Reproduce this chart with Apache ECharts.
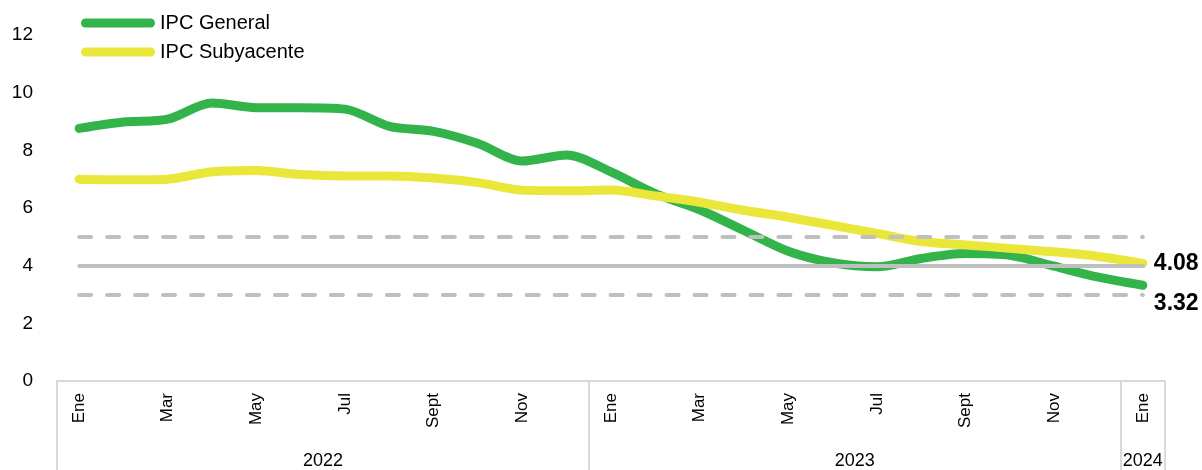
<!DOCTYPE html>
<html>
<head>
<meta charset="utf-8">
<script src="https://cdn.jsdelivr.net/npm/echarts@6/dist/echarts.min.js"></script>
<style>
  html, body { margin: 0; padding: 0; background: #fff; }
  #chart { width: 1202px; height: 470px; }
</style>
</head>
<body>
<div id="chart"></div>
<script>
// meses (ene 2022 - ene 2024)
const months = ['Ene', 'Feb', 'Mar', 'Abr', 'May', 'Jun', 'Jul', 'Ago', 'Sept', 'Oct', 'Nov', 'Dic',
  'Ene', 'Feb', 'Mar', 'Abr', 'May', 'Jun', 'Jul', 'Ago', 'Sept', 'Oct', 'Nov', 'Dic', 'Ene']
const years = ['2022', '2023', '2024']
const monthsPerYear = [12, 12, 1]

// inflación interanual (%)
const ipcGeneral = [8.76, 8.98, 9.08, 9.64, 9.48, 9.48, 9.43, 8.83, 8.66, 8.24, 7.63, 7.84,
  7.25, 6.5, 5.94, 5.22, 4.5, 4.1, 3.96, 4.25, 4.42, 4.36, 3.98, 3.6, 3.32]
const ipcSubyacente = [7.0, 6.98, 7.0, 7.26, 7.3, 7.16, 7.11, 7.11, 7.04, 6.88, 6.62, 6.6,
  6.62, 6.42, 6.2, 5.92, 5.68, 5.4, 5.12, 4.84, 4.72, 4.6, 4.48, 4.32, 4.08]

// meta y rango de tolerancia
const metaCentral = 4
const rangoInferior = 3
const rangoSuperior = 5

const yTicks = [0, 2, 4, 6, 8, 10, 12]

const font = 'Liberation Sans, Arial, sans-serif'
const grisRef = '#BFBFBF'
const grisEje = '#D9D9D9'
const last = months.length - 1

// posiciones de los años en el eje (centro de cada bloque) y separadores
const yearCenters = []
const yearEdges = [0]
let acc = 0
monthsPerYear.forEach(n => {
  yearCenters.push(acc + n / 2)
  acc += n
  yearEdges.push(acc)
})

const chart = echarts.init(document.getElementById('chart'))

const option = {
  animation: false,
  textStyle: { fontFamily: font },
  grid: {
    left: 57,
    right: 37,
    top: 35,
    bottom: 89,
    containLabel: false,
    outerBoundsMode: 'none'
  },
  legend: {
    orient: 'vertical',
    left: 81,
    top: 13,
    padding: 0,
    itemWidth: 74,
    itemHeight: 9,
    itemGap: 9,
    icon: 'path://M4.5,0 H69.5 A4.5,4.5 0 0 1 69.5,9 H4.5 A4.5,4.5 0 0 1 4.5,0 Z',
    textStyle: { fontSize: 20, color: '#000', fontFamily: font, lineHeight: 20 },
    data: ['IPC General', 'IPC Subyacente']
  },
  xAxis: [
    {
      type: 'category',
      data: months,
      boundaryGap: true,
      axisLine: { show: true, lineStyle: { color: grisEje, width: 2 } },
      axisTick: { show: false },
      axisLabel: {
        interval: 1,
        rotate: 90,
        margin: 12,
        fontSize: 17,
        color: '#000',
        fontFamily: font
      }
    },
    {
      type: 'value',
      position: 'bottom',
      min: 0,
      max: months.length,
      splitLine: { show: false },
      axisLine: { show: false },
      axisTick: {
        show: true,
        length: 90,
        customValues: yearEdges,
        lineStyle: { color: grisEje, width: 2 }
      },
      axisLabel: {
        customValues: yearCenters,
        margin: 71,
        fontSize: 18,
        color: '#000',
        fontFamily: font,
        formatter: v => years[yearCenters.indexOf(v)] || ''
      }
    }
  ],
  yAxis: {
    type: 'value',
    min: yTicks[0],
    max: yTicks[yTicks.length - 1],
    interval: 2,
    axisLine: { show: false },
    axisTick: { show: false },
    splitLine: { show: false },
    axisLabel: { fontSize: 19, color: '#000', margin: 24, fontFamily: font }
  },
  series: [
    {
      name: 'IPC General',
      type: 'line',
      data: ipcGeneral,
      smooth: 0.3,
      showSymbol: false,
      color: '#33B44A',
      lineStyle: { width: 9, cap: 'round', join: 'round' },
      endLabel: {
        show: true,
        formatter: p => p.value.toFixed(2),
        fontSize: 23,
        fontWeight: 'bold',
        color: '#000',
        distance: 11,
        offset: [0, 18]
      },
      z: 2
    },
    {
      name: 'IPC Subyacente',
      type: 'line',
      data: ipcSubyacente,
      smooth: 0.3,
      showSymbol: false,
      color: '#EAE73A',
      lineStyle: { width: 9, cap: 'round', join: 'round' },
      endLabel: {
        show: true,
        formatter: p => p.value.toFixed(2),
        fontSize: 23,
        fontWeight: 'bold',
        color: '#000',
        distance: 11
      },
      z: 3
    },
    {
      name: 'rango',
      type: 'line',
      data: [],
      z: 5,
      markLine: {
        silent: true,
        symbol: 'none',
        label: { show: false },
        z: 5,
        lineStyle: { color: grisRef, width: 4, type: [12, 15.97], cap: 'round' },
        data: [
          [{ xAxis: 0, yAxis: rangoSuperior }, { xAxis: last, yAxis: rangoSuperior }],
          [{ xAxis: 0, yAxis: rangoInferior }, { xAxis: last, yAxis: rangoInferior }]
        ]
      }
    },
    {
      name: 'meta',
      type: 'line',
      data: [],
      z: 5,
      markLine: {
        silent: true,
        symbol: 'none',
        label: { show: false },
        z: 5,
        lineStyle: { color: grisRef, width: 4, type: 'solid', cap: 'round' },
        data: [[{ xAxis: 0, yAxis: metaCentral }, { xAxis: last, yAxis: metaCentral }]]
      }
    }
  ]
}

chart.setOption(option)
</script>
</body>
</html>
